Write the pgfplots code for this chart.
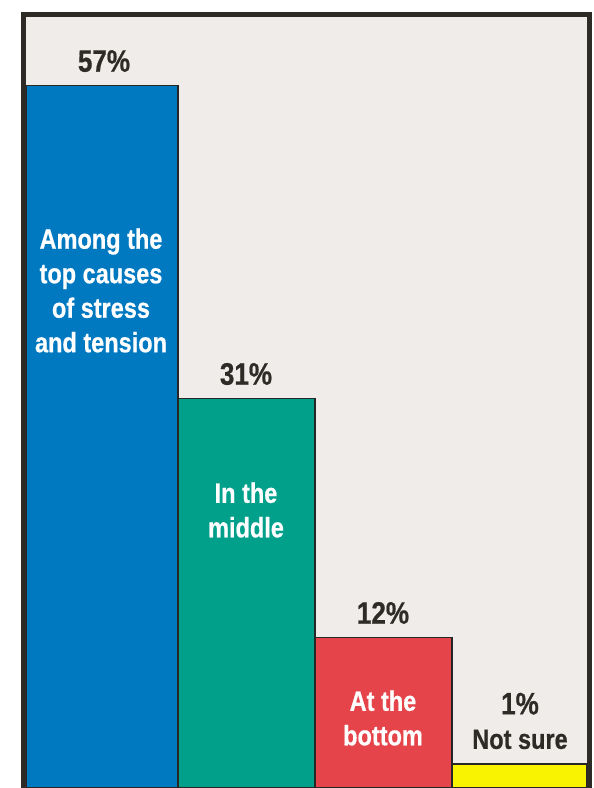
\documentclass[border=0pt]{standalone}
\usepackage{fontspec}
\setmainfont{Liberation Sans}[FakeStretch=0.84, BoldFeatures={FakeBold=0.6}]
\usepackage{pgfplots}
\pgfplotsset{compat=1.18}
\definecolor{cblue}{HTML}{0079C1}
\definecolor{cteal}{HTML}{00A08B}
\definecolor{cred}{HTML}{E5444A}
\definecolor{cyel}{HTML}{F9F200}
\definecolor{cbg}{HTML}{F0ECE9}
\definecolor{cframe}{HTML}{2E2B26}
\begin{document}
\begin{tikzpicture}
\fill[white] (-11.75pt,0) rectangle (285.25pt,394pt);
\begin{axis}[
  at={(0,0)}, anchor=south west,
  scale only axis,
  width=283pt, height=386.75pt,
  xmin=23.5, xmax=589.5,
  ymin=0, ymax=62.78,
  axis line style={draw=none},
  axis background/.style={fill=cbg},
  ticks=none,
  clip=false,
]
\addplot[ybar interval, fill=cblue, draw=black!85, line width=0.6pt] coordinates {(26,57) (178,57)};
\addplot[ybar interval, fill=cteal, draw=black!85, line width=0.6pt] coordinates {(178,31.6) (315,31.6)};
\addplot[ybar interval, fill=cred, draw=black!85, line width=0.6pt] coordinates {(315,12.2) (452,12.2)};
\addplot[ybar interval, fill=cyel, draw=black!85, line width=0.6pt] coordinates {(452,1.95) (587,1.95)};
\draw[cframe, line width=2.5pt] (rel axis cs:0,0) -- (rel axis cs:0,1) -- (rel axis cs:1,1) -- (rel axis cs:1,0);
\tikzset{pct/.style={anchor=base, text=cframe, font=\bfseries\fontsize{15.5}{18}\selectfont, inner sep=0pt}}
\node[pct] at (axis cs:104,57) [yshift=7pt] {57\%};
\node[pct] at (axis cs:246,31.6) [yshift=7pt] {31\%};
\node[pct] at (axis cs:383,12.2) [yshift=7pt] {12\%};
\tikzset{inl/.style={align=center, text=white, font=\bfseries\fontsize{14}{17.25}\selectfont, inner sep=0pt}}
\node[inl] at (axis cs:101,40.38) {Among the\\top causes\\of stress\\and tension};
\node[inl] at (axis cs:246,22.56) {In the\\middle};
\node[inl] at (axis cs:383,5.68) {At the\\bottom};
\node[inl, text=cframe] at (axis cs:520,5.44) {{\fontsize{15.5}{17.25}\selectfont 1\%}\\Not sure};
\end{axis}
\pgfresetboundingbox
\useasboundingbox (-11.75pt,0) rectangle (285.25pt,394pt);
\end{tikzpicture}
\end{document}
